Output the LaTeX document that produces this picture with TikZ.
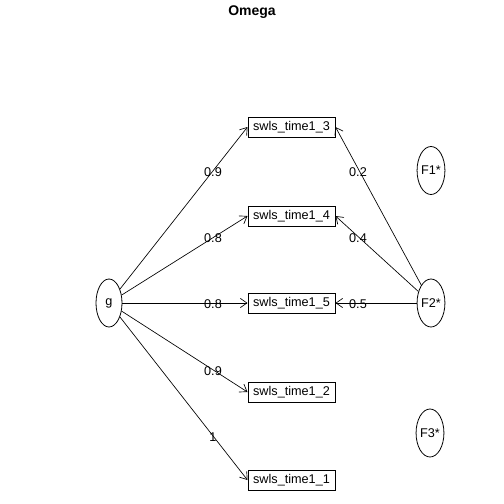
\documentclass[tikz,border=0pt]{standalone}
\usepackage{fontspec}
\setmainfont{Liberation Sans}
\usetikzlibrary{shapes.geometric,arrows.meta}
\begin{document}
\begin{tikzpicture}[x=0.75pt,y=-0.75pt,
  every node/.style={font=\fontsize{9.5}{11}\selectfont},
  obs/.style={draw,line width=0.75pt,minimum width=65.25pt,minimum height=15pt,inner sep=0pt},
  lat/.style={draw,ellipse,line width=0.6pt,minimum width=19.5pt,minimum height=36pt,inner sep=0pt},
  edge/.style={draw,line width=0.5pt,-{Straight Barb[length=5pt,width=7pt,line width=0.5pt]}},
  lbl/.style={inner sep=0pt}]
\useasboundingbox (0,0) rectangle (504,504);
\node[font=\fontsize{10.5}{12}\selectfont\bfseries] (title) at (252,12) {Omega};
\node[obs] (b3) at (291.5,127) {swls\_time1\_3};
\node[obs] (b4) at (291.5,216) {swls\_time1\_4};
\node[obs] (b5) at (291.5,303) {swls\_time1\_5};
\node[obs] (b2) at (291.5,392) {swls\_time1\_2};
\node[obs] (b1) at (291.5,480) {swls\_time1\_1};
\node[lat] (g) at (109,303) {g};
\node[lat] (F1) at (431,170.5) {F1*};
\node[lat] (F2) at (431,303) {F2*};
\node[lat] (F3) at (430,433) {F3*};
\draw[edge] (g) -- (b3.west);
\draw[edge] (g) -- (b4.west);
\draw[edge] (g) -- (b5.west);
\draw[edge] (g) -- (b2.west);
\draw[edge] (g) -- (b1.west);
\draw[edge] (F2) -- (b3.east);
\draw[edge] (F2) -- (b4.east);
\draw[edge] (F2) -- (b5.east);
\node[lbl] (l3) at (213,172) {0.9};
\node[lbl] (l4) at (213,238) {0.8};
\node[lbl] (l5) at (213,304) {0.8};
\node[lbl] (l2) at (213,371) {0.9};
\node[lbl] (l1) at (213,437) {1};
\node[lbl] (m3) at (358,172) {0.2};
\node[lbl] (m4) at (358,238) {0.4};
\node[lbl] (m5) at (358,304) {0.5};
\end{tikzpicture}
\end{document}
